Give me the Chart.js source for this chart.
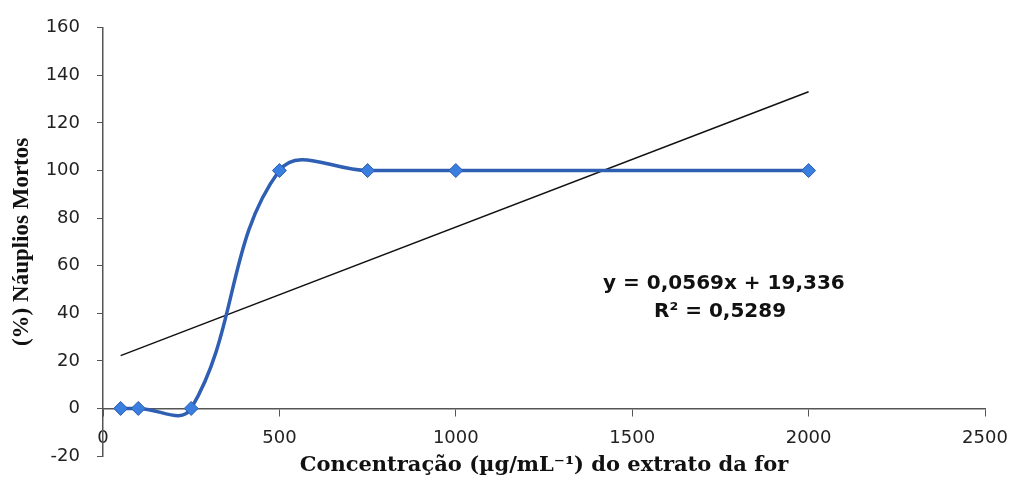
<!DOCTYPE html>
<html>
<head>
<meta charset="utf-8">
<script src="https://cdn.jsdelivr.net/npm/chart.js@4"></script>
<style>
  html, body { margin: 0; padding: 0; background: #fff; }
  #wrap { width: 1011px; height: 486px; }
</style>
</head>
<body>
<div id="wrap"><canvas id="myChart"></canvas></div>
<script>
// dados
const concentracao = [50, 100, 250, 500, 750, 1000, 2000];
const mortos = [0, 0, 0, 100, 100, 100, 100];
const trendX = [50, 2000];
const trendY = [22.2, 133.1];
const xTicks = [0, 500, 1000, 1500, 2000, 2500];
const yTicks = [-20, 0, 20, 40, 60, 80, 100, 120, 140, 160];
const equacao = ['y = 0,0569x + 19,336', 'R² = 0,5289'];
const eqPos = [[1760, 52.5], [1749, 40.5]];

const eqLabel = {
  id: 'eqLabel',
  afterDatasetsDraw(chart) {
    const {ctx, scales: {x, y}} = chart;
    ctx.save();
    ctx.font = 'bold 20px "DejaVu Sans"';
    ctx.fillStyle = '#111';
    ctx.textAlign = 'center';
    ctx.textBaseline = 'middle';
    equacao.forEach((t, i) => {
      ctx.fillText(t, x.getPixelForValue(eqPos[i][0]), y.getPixelForValue(eqPos[i][1]));
    });
    ctx.restore();
  }
};

const ctx = document.getElementById('myChart');

new Chart(ctx, {
  type: 'scatter',
  data: {
    datasets: [{
      label: 'Náuplios mortos',
      data: concentracao.map((c, i) => ({x: c, y: mortos[i]})),
      showLine: true,
      tension: 0.4,
      borderColor: '#2F5FB2',
      borderWidth: 3.5,
      pointStyle: 'rectRot',
      pointRadius: 7,
      pointBackgroundColor: '#3A7EE0',
      pointBorderColor: '#2C5CB0',
      pointBorderWidth: 1,
      order: 1
    }, {
      label: 'Linear',
      data: trendX.map((c, i) => ({x: c, y: trendY[i]})),
      showLine: true,
      borderColor: '#111',
      borderWidth: 1.5,
      pointRadius: 0,
      order: 2
    }]
  },
  options: {
    responsive: true,
    maintainAspectRatio: false,
    animation: false,
    layout: { padding: { top: 24, right: 26, bottom: 30, left: 0 } },
    plugins: {
      legend: { display: false },
      tooltip: { enabled: false }
    },
    scales: {
      x: {
        type: 'linear',
        position: { y: 0 },
        min: 0,
        max: 2500,
        afterBuildTicks: (s) => { s.ticks = xTicks.map(v => ({value: v})); },
        afterFit: (s) => { s.paddingLeft = 0; s.paddingRight = 0; },
        grid: { drawOnChartArea: false, tickLength: 7, color: '#555' },
        border: { color: '#555', width: 1.5 },
        ticks: {
          padding: 12,
          color: '#222',
          font: { size: 18, family: 'DejaVu Sans' },
          callback: (v) => String(v)
        },
        title: {
          display: true,
          text: 'Concentração (µg/mL⁻¹) do extrato da for',
          color: '#111',
          font: { size: 21, weight: 'bold', family: 'DejaVu Serif' },
          padding: { top: -8, bottom: 0 }
        }
      },
      y: {
        min: -20,
        max: 160,
        afterBuildTicks: (s) => { s.ticks = yTicks.map(v => ({value: v})); },
        afterFit: (s) => { s.width = 103; },
        grid: { drawOnChartArea: false, tickLength: 6, color: '#555' },
        border: { color: '#555', width: 1.5 },
        ticks: { padding: 17, color: '#222', font: { size: 18, family: 'DejaVu Sans' } },
        title: {
          display: true,
          text: '(%) Náuplios Mortos',
          color: '#111',
          font: { size: 23, weight: 'bold', family: 'Liberation Serif' },
          padding: { top: 8, bottom: 0 }
        }
      }
    }
  },
  plugins: [eqLabel]
});
</script>
</body>
</html>
